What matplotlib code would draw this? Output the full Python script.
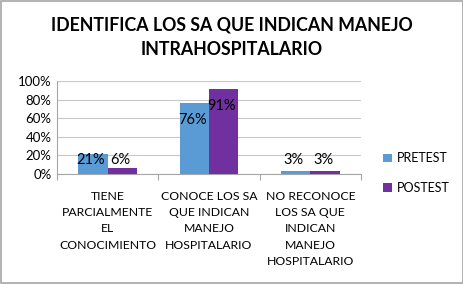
import numpy as np
import matplotlib
matplotlib.use('Agg')
import matplotlib.pyplot as plt
from matplotlib.patches import Rectangle

# Data
categories = ['TIENE\nPARCIALMENTE\nEL\nCONOCIMIENTO',
              'CONOCE LOS SA\nQUE INDICAN\nMANEJO\nHOSPITALARIO',
              'NO RECONOCE\nLOS SA QUE\nINDICAN\nMANEJO\nHOSPITALARIO']
pretest = [0.21, 0.76, 0.03]
postest = [0.06, 0.91, 0.03]
series_names = ['PRETEST', 'POSTEST']
colors = ['#5B9BD5', '#7030A0']

plt.rcParams['font.family'] = ['Lato', 'DejaVu Sans']

fig = plt.figure(figsize=(4.64, 2.84), dpi=100)
ax = fig.add_axes([57 / 464, 1 - 174 / 284, 304 / 464, 93 / 284])

x = np.arange(len(categories))
w = 0.29
b1 = ax.bar(x - w / 2, pretest, w, color=colors[0], label=series_names[0], zorder=3)
b2 = ax.bar(x + w / 2, postest, w, color=colors[1], label=series_names[1], zorder=3)

# value labels
for bars, vals in ((b1, pretest), (b2, postest)):
    for rect, v in zip(bars, vals):
        ypos = max(v - 0.18, 0.15)
        ax.text(rect.get_x() + rect.get_width() / 2 - 0.02, ypos, '{:.0f}%'.format(v * 100),
                ha='center', va='center', fontsize=10.5, color='black', zorder=4)

ax.set_xlim(-0.5, 2.5)
ax.set_ylim(0, 1.0)
ax.set_yticks(np.arange(0, 1.01, 0.2))
ax.set_yticklabels(['{:.0f}%'.format(t * 100) for t in np.arange(0, 1.01, 0.2)], fontsize=9.5)
ax.yaxis.grid(True, color='#C8C8C8', linewidth=0.8, zorder=0)
ax.tick_params(axis='y', length=0, pad=4)

ax.set_xticks(x)
ax.set_xticklabels(categories, fontsize=8.8, linespacing=1.6)
ax.tick_params(axis='x', which='major', length=0, pad=12)
ax.set_xticks([-0.5, 0.5, 1.5, 2.5], minor=True)
ax.tick_params(axis='x', which='minor', length=4, color='#A6A6A6', width=0.8)

for s in ['top', 'right']:
    ax.spines[s].set_visible(False)
ax.spines['left'].set_color('#A6A6A6')
ax.spines['bottom'].set_color('#A6A6A6')
ax.spines['left'].set_linewidth(0.8)
ax.spines['bottom'].set_linewidth(0.8)

fig.text(0.5, 1 - 37 / 284, 'IDENTIFICA LOS SA QUE INDICAN MANEJO\nINTRAHOSPITALARIO',
         ha='center', va='center', fontsize=12.8, fontweight='bold', linespacing=1.55)

ax.legend(loc='center left', bbox_to_anchor=(372 / 464, 1 - 173 / 284),
          bbox_transform=fig.transFigure, frameon=False, fontsize=9,
          handlelength=0.7, handleheight=0.7, handletextpad=0.4, labelspacing=1.4)

# outer border
fig.patches.append(Rectangle((0.002, 0.003), 0.996, 0.994, transform=fig.transFigure,
                             fill=False, edgecolor='#A6A6A6', linewidth=1.2))

fig.savefig('out.png', dpi=100)
